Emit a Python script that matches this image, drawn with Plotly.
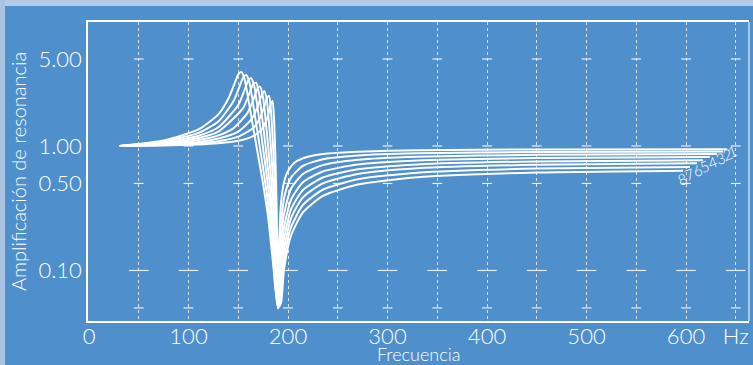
import numpy as np
import plotly.graph_objects as go

# ---- data ----
freq_1 = [31, 75, 110, 130, 150, 165, 173, 178, 181, 183, 184.5, 186, 187.5, 189, 190, 191, 193, 196, 200, 207, 220, 240, 270, 330, 450, 641]
amp_1 = [1.00, 1.01, 1.028, 1.051, 1.10, 1.20, 1.34, 1.58, 1.91, 2.20, 2.30, 1.63, 0.73, 0.21, 0.05, 0.15, 0.35, 0.51, 0.63, 0.74, 0.82, 0.87, 0.90, 0.924, 0.938, 0.943]

freq_2 = [31, 75, 110, 130, 150, 165, 172, 176, 179, 181, 183, 185, 187, 189, 190, 192, 194, 197, 203, 215, 235, 270, 330, 450, 637]
amp_2 = [1.00, 1.018, 1.051, 1.092, 1.188, 1.393, 1.684, 2.067, 2.45, 2.52, 1.86, 0.98, 0.44, 0.114, 0.05, 0.17, 0.289, 0.412, 0.557, 0.692, 0.783, 0.840, 0.875, 0.896, 0.905]

freq_3 = [31, 75, 110, 130, 150, 163, 169, 173, 176, 178.5, 181, 184, 187, 189, 190, 193, 196, 203, 215, 235, 270, 330, 450, 631]
amp_3 = [1.00, 1.028, 1.079, 1.147, 1.306, 1.626, 2.02, 2.50, 2.77, 2.40, 1.50, 0.70, 0.26, 0.074, 0.05, 0.168, 0.285, 0.453, 0.596, 0.702, 0.776, 0.821, 0.849, 0.862]

freq_4 = [31, 75, 110, 130, 145, 159, 165, 169, 172, 175, 178, 182, 185, 188, 190, 193, 196, 203, 215, 235, 270, 330, 450, 624]
amp_4 = [1.00, 1.040, 1.116, 1.216, 1.386, 1.829, 2.332, 2.85, 3.00, 2.44, 1.475, 0.673, 0.333, 0.11, 0.05, 0.126, 0.221, 0.370, 0.511, 0.624, 0.709, 0.764, 0.799, 0.815]

freq_5 = [31, 75, 110, 130, 155, 161, 165, 168, 171, 174, 178, 182, 186, 188, 190, 193, 196, 203, 215, 235, 270, 330, 450, 617]
amp_5 = [1.00, 1.053, 1.159, 1.304, 2.024, 2.628, 3.15, 3.22, 2.60, 1.70, 0.905, 0.455, 0.181, 0.082, 0.05, 0.099, 0.178, 0.309, 0.443, 0.558, 0.649, 0.711, 0.752, 0.769]

freq_6 = [31, 75, 110, 130, 150, 156, 160, 163, 166, 169, 174, 179, 184, 187, 190, 193, 196, 203, 215, 235, 270, 330, 450, 611]
amp_6 = [1.00, 1.068, 1.209, 1.414, 2.135, 2.769, 3.35, 3.50, 3.045, 2.146, 1.094, 0.543, 0.229, 0.101, 0.05, 0.081, 0.147, 0.262, 0.387, 0.501, 0.595, 0.662, 0.706, 0.725]

freq_7 = [31, 75, 110, 130, 145, 151, 155, 158, 161, 164, 169, 174, 179, 184, 187, 190, 193, 196, 203, 215, 235, 270, 330, 450, 604]
amp_7 = [1.00, 1.086, 1.275, 1.574, 2.274, 2.961, 3.55, 3.72, 3.30, 2.432, 1.343, 0.746, 0.398, 0.177, 0.079, 0.05, 0.066, 0.121, 0.222, 0.336, 0.445, 0.540, 0.610, 0.658, 0.678]

freq_8 = [31, 75, 110, 130, 140, 146, 150, 153, 156, 160, 165, 170, 175, 180, 185, 190, 193, 196, 203, 215, 235, 270, 330, 450, 597]
amp_8 = [1.00, 1.107, 1.357, 1.793, 2.395, 3.13, 3.75, 3.93, 3.53, 2.41, 1.405, 0.835, 0.493, 0.270, 0.114, 0.05, 0.055, 0.102, 0.190, 0.293, 0.397, 0.490, 0.562, 0.612, 0.633]

curve_labels = ["1", "2", "3", "4", "5", "6", "7", "8"]

x_tick_vals = [0, 100, 200, 300, 400, 500, 600, 650]
x_tick_text = ["0", "100", "200", "300", "400", "500", "600", "Hz"]
y_tick_vals = [5, 1, 0.5, 0.1]
y_tick_text = ["5.00", "1.00", "0.50", "0.10"]
grid_x = [50, 100, 150, 200, 250, 300, 350, 400, 450, 500, 550, 600, 650]
mark_levels = [5, 1, 0.5, 0.1, 0.05]
mark_sizes = [7, 7, 7, 14, 7]
x_title = "Frecuencia"
y_title = "Amplificación de resonancia"

# ---- figure ----
BLUE = "#4f8fcb"
WHITE = "white"
FONT = "Lato, 'Open Sans', sans-serif"
W = 300

fig = go.Figure()

# small tick dashes on the dotted grid lines
for lvl, sz in zip(mark_levels, mark_sizes):
    fig.add_trace(go.Scatter(
        x=grid_x, y=[lvl] * len(grid_x), mode="markers",
        marker=dict(symbol="line-ew", size=sz, line=dict(color="rgba(255,255,255,0.85)", width=1.2)),
        hoverinfo="skip"))

freqs = [freq_1, freq_2, freq_3, freq_4, freq_5, freq_6, freq_7, freq_8]
amps = [amp_1, amp_2, amp_3, amp_4, amp_5, amp_6, amp_7, amp_8]

for k, (f, a) in enumerate(zip(freqs, amps)):
    fig.add_trace(go.Scatter(
        x=f, y=a, mode="lines",
        line=dict(color=WHITE, width=2, shape="spline", smoothing=0.6),
        hoverinfo="skip"))
    fig.add_annotation(
        x=f[-1], y=np.log10(a[-1]), text=curve_labels[k], showarrow=False,
        xanchor="center", yanchor="middle",
        xshift=6 - k * 1.0, yshift=-2 - k * 0.9, textangle=-20,
        font=dict(family=FONT, size=15, color=WHITE, weight=W))

# x-axis title placed just below the tick labels
fig.add_annotation(
    x=0.5, y=0, xref="paper", yref="paper", text=x_title, showarrow=False,
    xanchor="center", yanchor="middle", yshift=-33,
    font=dict(family=FONT, size=18, color=WHITE, weight=W))

fig.update_layout(
    width=753, height=365,
    margin=dict(l=88, r=4, t=22, b=44),
    paper_bgcolor=BLUE, plot_bgcolor=BLUE,
    showlegend=False,
    font=dict(family=FONT, color=WHITE, weight=W),
    xaxis=dict(
        range=[-1, 663.3], showgrid=False, zeroline=False,
        tickvals=x_tick_vals, ticktext=x_tick_text, ticks="",
        tickfont=dict(size=22, color=WHITE, weight=W), ticklabelstandoff=-5,
        showline=True, linecolor=WHITE, linewidth=1.5, mirror=True,
        minor=dict(tickvals=grid_x, showgrid=True, griddash="dot",
                   gridcolor="rgba(255,255,255,0.75)", gridwidth=1, ticks=""),
        automargin=False,
    ),
    yaxis=dict(
        type="log", range=[-1.406, 0.996], showgrid=False, zeroline=False,
        tickvals=y_tick_vals, ticktext=y_tick_text, ticks="",
        tickfont=dict(size=22, color=WHITE, weight=W), ticklabelstandoff=0,
        showline=True, linecolor=WHITE, linewidth=1.5, mirror=False,
        title=dict(text=y_title, font=dict(size=20, color=WHITE, weight=W), standoff=6),
        automargin=False,
    ),
)

# pale right border and light page edges
fig.add_shape(type="line", xref="paper", yref="paper", x0=1, x1=1, y0=0, y1=1,
              line=dict(color="rgba(230,240,250,0.8)", width=1.5))
fig.add_shape(type="rect", xref="paper", yref="paper", x0=-0.2, x1=1.1, y0=1.0535, y1=1.08,
              fillcolor="#b3cbe6", line=dict(width=0), layer="below")
fig.add_shape(type="rect", xref="paper", yref="paper", x0=-0.14, x1=-0.1255, y0=-0.2, y1=1.08,
              fillcolor="#a9c3e3", line=dict(width=0), layer="below")

fig.write_html("out.html", config={"displayModeBar": False},
               post_script="document.body.style.margin='0';document.body.style.overflow='hidden';")
